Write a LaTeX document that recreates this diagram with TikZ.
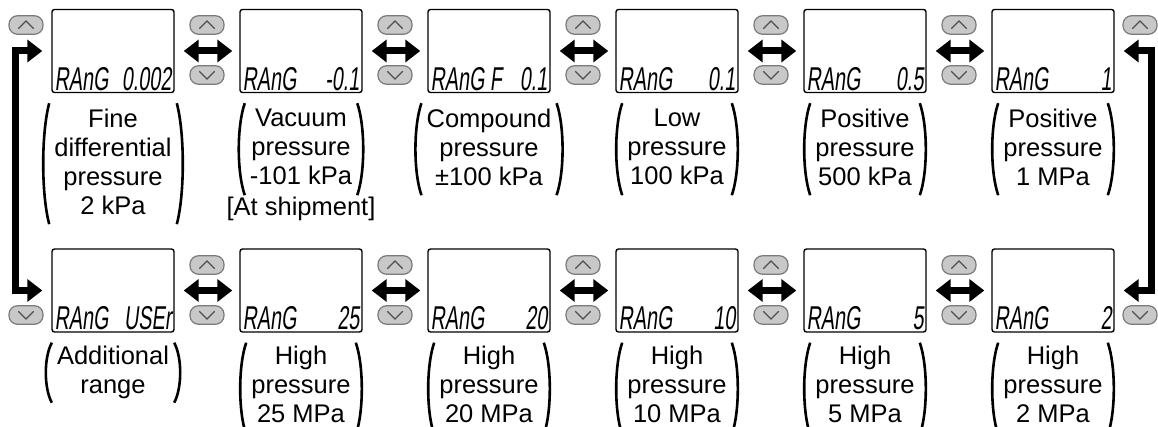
\documentclass[tikz,border=0pt]{standalone}
\usepackage{fontspec}
\setmainfont{Liberation Sans}
\newfontfamily\lcdfont[FakeStretch=0.6,FakeSlant=0.12]{Liberation Sans}
\usetikzlibrary{arrows.meta,calc}
\definecolor{btnfill}{HTML}{C8C8C8}
\definecolor{btnedge}{HTML}{7A7A7A}
\definecolor{chevcol}{HTML}{505050}
\tikzset{
  lcdbox/.style={draw=black,line width=1.4pt,rounded corners=2.5pt,minimum width=122pt,minimum height=83pt,inner sep=0pt},
  btn/.style={draw=btnedge,fill=btnfill,line width=1.2pt,rounded corners=8.5pt,minimum width=34pt,minimum height=18.5pt,inner sep=0pt},
  upbtn/.style={btn,path picture={\draw[sharp corners,draw=chevcol,line width=1.2pt,line cap=round,line join=miter]
      ([shift={(-7.5pt,-3.5pt)}]path picture bounding box.center) -- ([shift={(0pt,4pt)}]path picture bounding box.center) -- ([shift={(7.5pt,-3.5pt)}]path picture bounding box.center);}},
  dnbtn/.style={btn,path picture={\draw[sharp corners,draw=chevcol,line width=1.2pt,line cap=round,line join=miter]
      ([shift={(-7.5pt,3.5pt)}]path picture bounding box.center) -- ([shift={(0pt,-4pt)}]path picture bounding box.center) -- ([shift={(7.5pt,3.5pt)}]path picture bounding box.center);}},
  bigarrow/.style={line width=7pt,line join=miter,{Triangle[length=15pt,width=22pt]}-{Triangle[length=15pt,width=22pt]}},
  dbl/.style={bigarrow,shorten <=9pt,shorten >=7pt},
  lcdl/.style={anchor=base west,inner sep=0pt,font=\lcdfont\fontsize{33}{33}\selectfont},
  lcdr/.style={anchor=base east,inner sep=0pt,font=\lcdfont\fontsize{33}{33}\selectfont},
  captext/.style={align=center,inner xsep=11pt,inner ysep=0pt,minimum width=120pt,anchor=north,font=\fontsize{25.5}{29}\selectfont},
  paren/.style={line width=2.6pt,line cap=butt},
}
\newcommand\drawparens[3]{%
  \draw[paren] ($(#1.west |- #2.south)+(6,10)$) .. controls ($(#1.west |- #2.south)+(-2,10+#3/4)$) and ($(#1.west |- #2.south)+(-2,10+3*#3/4)$) .. ($(#1.west |- #2.south)+(6,10+#3)$);
  \draw[paren] ($(#1.east |- #2.south)+(-6,10)$) .. controls ($(#1.east |- #2.south)+(2,10+#3/4)$) and ($(#1.east |- #2.south)+(2,10+3*#3/4)$) .. ($(#1.east |- #2.south)+(-6,10+#3)$);
}
\newcommand\lcdtext[3]{%
  \node[lcdl] (#1l) at ($(#1.south west)+(3,-3)$) {#2};
  \node[lcdr] (#1r) at ($(#1.south east)+(-3,-3)$) {#3};
}
\begin{document}
\begin{tikzpicture}[x=1pt,y=-1pt]
\clip (0,0) rectangle (1158,427);
\fill[white] (0,0) rectangle (1158,427);

% top row displays
\node[lcdbox] (t1) at (113,51) {};
\node[lcdbox] (t2) at (301,51) {};
\node[lcdbox] (t3) at (489,51) {};
\node[lcdbox] (t4) at (677,51) {};
\node[lcdbox] (t5) at (865,51) {};
\node[lcdbox] (t6) at (1053,51) {};
% bottom row displays
\node[lcdbox] (b1) at (113,290.5) {};
\node[lcdbox] (b2) at (301,290.5) {};
\node[lcdbox] (b3) at (489,290.5) {};
\node[lcdbox] (b4) at (677,290.5) {};
\node[lcdbox] (b5) at (865,290.5) {};
\node[lcdbox] (b6) at (1053,290.5) {};

\lcdtext{t1}{RAnG}{0.002}
\lcdtext{t2}{RAnG}{-0.1}
\lcdtext{t3}{RAnG F}{0.1}
\lcdtext{t4}{RAnG}{0.1}
\lcdtext{t5}{RAnG}{0.5}
\lcdtext{t6}{RAnG}{1}
\lcdtext{b1}{RAnG}{USEr}
\lcdtext{b2}{RAnG}{25}
\lcdtext{b3}{RAnG}{20}
\lcdtext{b4}{RAnG}{10}
\lcdtext{b5}{RAnG}{5}
\lcdtext{b6}{RAnG}{2}

% buttons
\node[upbtn] (tu0) at (26,25) {};
\node[upbtn] (tu1) at (207,25) {};
\node[dnbtn] (td1) at (207,75) {};
\node[upbtn] (tu2) at (395,25) {};
\node[dnbtn] (td2) at (395,75) {};
\node[upbtn] (tu3) at (583,25) {};
\node[dnbtn] (td3) at (583,75) {};
\node[upbtn] (tu4) at (771,25) {};
\node[dnbtn] (td4) at (771,75) {};
\node[upbtn] (tu5) at (959,25) {};
\node[dnbtn] (td5) at (959,75) {};
\node[upbtn] (tu6) at (1140,25) {};

\node[dnbtn] (bd0) at (26,315) {};
\node[upbtn] (bu1) at (207,265) {};
\node[dnbtn] (bd1) at (207,315) {};
\node[upbtn] (bu2) at (395,265) {};
\node[dnbtn] (bd2) at (395,315) {};
\node[upbtn] (bu3) at (583,265) {};
\node[dnbtn] (bd3) at (583,315) {};
\node[upbtn] (bu4) at (771,265) {};
\node[dnbtn] (bd4) at (771,315) {};
\node[upbtn] (bu5) at (959,265) {};
\node[dnbtn] (bd5) at (959,315) {};
\node[dnbtn] (bd6) at (1140,315) {};

% double arrows
\draw[dbl] (t1) -- (t2);
\draw[dbl] (t2) -- (t3);
\draw[dbl] (t3) -- (t4);
\draw[dbl] (t4) -- (t5);
\draw[dbl] (t5) -- (t6);
\draw[dbl] (b1) -- (b2);
\draw[dbl] (b2) -- (b3);
\draw[dbl] (b3) -- (b4);
\draw[dbl] (b4) -- (b5);
\draw[dbl] (b5) -- (b6);

% loop arrows
\coordinate (lx) at (15,170);
\coordinate (rx) at (1151,170);
\draw[bigarrow] ([xshift=-9pt]t1.west) -| (lx) |- ([xshift=-9pt]b1.west);
\draw[bigarrow] ([xshift=9pt]t6.east) -| (rx) |- ([xshift=9pt]b6.east);

% captions top
\node[captext] (c1) at ($(t1.south)+(0,16)$) {Fine\\differential\\pressure\\2 kPa};
\node[captext] (c2) at ($(t2.south)+(0,16)$) {Vacuum\\pressure\\-101 kPa};
\node[anchor=base,inner sep=0pt,font=\fontsize{25.5}{29}\selectfont] (c2s) at ($(t2.south)+(0,122)$) {[At shipment]};
\node[captext] (c3) at ($(t3.south)+(0,16)$) {Compound\\pressure\\±100 kPa};
\node[captext] (c4) at ($(t4.south)+(0,16)$) {Low\\pressure\\100 kPa};
\node[captext] (c5) at ($(t5.south)+(0,16)$) {Positive\\pressure\\500 kPa};
\node[captext] (c6) at ($(t6.south)+(0,16)$) {Positive\\pressure\\1 MPa};
\drawparens{c1}{t1}{121}
\drawparens{c2}{t2}{92}
\drawparens{c3}{t3}{92}
\drawparens{c4}{t4}{92}
\drawparens{c5}{t5}{92}
\drawparens{c6}{t6}{92}

% captions bottom
\node[captext] (d1) at ($(b1.south)+(0,13)$) {Additional\\range};
\node[captext] (d2) at ($(b2.south)+(0,13)$) {High\\pressure\\25 MPa};
\node[captext] (d3) at ($(b3.south)+(0,13)$) {High\\pressure\\20 MPa};
\node[captext] (d4) at ($(b4.south)+(0,13)$) {High\\pressure\\10 MPa};
\node[captext] (d5) at ($(b5.south)+(0,13)$) {High\\pressure\\5 MPa};
\node[captext] (d6) at ($(b6.south)+(0,13)$) {High\\pressure\\2 MPa};
\drawparens{d1}{b1}{60}
\drawparens{d2}{b2}{92}
\drawparens{d3}{b3}{92}
\drawparens{d4}{b4}{92}
\drawparens{d5}{b5}{92}
\drawparens{d6}{b6}{92}
\end{tikzpicture}
\end{document}
